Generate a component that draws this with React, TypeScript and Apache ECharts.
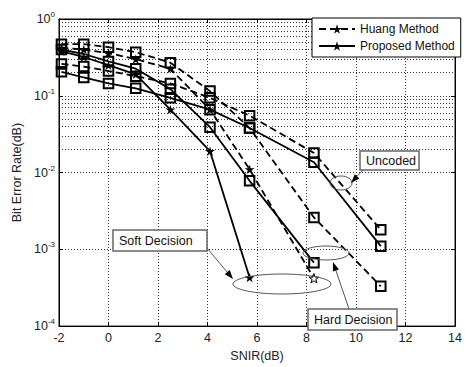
import React, { useEffect, useRef } from "react";
import * as echarts from "echarts";

const snir = [-1.9, -1.0, 0, 1.1, 2.5, 4.1, 5.7, 8.3, 11];
const huangSoft = [0.42, 0.4, 0.36, 0.3, 0.225, 0.066, 0.011, 0.00042];
const propSoft = [0.38, 0.32, 0.25, 0.19, 0.066, 0.019, 0.00043];
const huangUncoded = [0.26, 0.24, 0.21, 0.18, 0.145, 0.094, 0.055, 0.018, 0.0018];
const huangHard = [0.47, 0.47, 0.43, 0.37, 0.27, 0.115, 0.038, 0.0026, 0.00033];
const propUncoded = [0.205, 0.173, 0.145, 0.125, 0.094, 0.066, 0.038, 0.0136, 0.0011];
const propHard = [0.4, 0.35, 0.28, 0.225, 0.122, 0.039, 0.0078, 0.00067];

const legendNames = ["Huang Method", "Proposed Method"];
const xTicks = { min: -2, max: 14, interval: 2 };
const yRange = { min: 1e-4, max: 1 };

const STAR =
  "path://M50,0 L61,35 L98,35 L68,57 L79,91 L50,70 L21,91 L32,57 L2,35 L39,35 Z";
const FONT = "Liberation Sans";
const GRID_DOT = { color: "#333", width: 1, type: [1, 2] as any };

function pairs(vals: number[]) {
  return vals.map((v, i) => [snir[i], v]);
}

function arrow(x1: number, y1: number, x2: number, y2: number) {
  const ang = Math.atan2(y2 - y1, x2 - x1);
  const L = 9, W = 3.2;
  const bx = x2 - L * Math.cos(ang), by = y2 - L * Math.sin(ang);
  const px = -Math.sin(ang) * W, py = Math.cos(ang) * W;
  return [
    { type: "line", z: 100, shape: { x1, y1, x2: bx, y2: by }, style: { stroke: "#555", lineWidth: 1 } },
    {
      type: "polygon", z: 100,
      shape: { points: [[x2, y2], [bx + px, by + py], [bx - px, by - py]] },
      style: { fill: "#000" },
    },
  ];
}

function labelBox(x: number, y: number, w: number, h: number, text: string) {
  return [
    { type: "rect", z: 100, shape: { x, y, width: w, height: h }, style: { fill: "#fff", stroke: "#666", lineWidth: 1.5 } },
    {
      type: "text", z: 101, x: x + 6, y: y + h / 2,
      style: { text, fill: "#111", font: `12.5px '${FONT}'`, verticalAlign: "middle" },
    },
  ];
}

function ellipse(cx: number, cy: number, rx: number, ry: number) {
  return { type: "ellipse", z: 99, shape: { cx, cy, rx, ry }, style: { fill: "none", stroke: "#555", lineWidth: 1 } };
}

export default function App() {
  const ref = useRef<HTMLDivElement>(null);
  useEffect(() => {
    if (!ref.current) return;
    const chart = echarts.init(ref.current, null, { renderer: "svg" });

    const minorLines: any[] = [];
    for (let d = -4; d <= -1; d++) {
      for (let k = 2; k <= 9; k++) minorLines.push({ yAxis: k * Math.pow(10, d) });
    }

    const squareStyle = { color: "rgba(255,255,255,0)", borderColor: "#000", borderWidth: 2 };
    const mk = (name: string, vals: number[], dashed: boolean, star: boolean, extra: any = {}) => ({
      name,
      type: "line",
      data: pairs(vals),
      symbol: star ? STAR : "rect",
      symbolSize: star ? 10 : 9.5,
      symbolKeepAspect: true,
      lineStyle: { color: "#000", width: 1.8, type: dashed ? [7, 4] : "solid" },
      itemStyle: star ? { color: "#000" } : squareStyle,
      emphasis: { disabled: true },
      ...extra,
    });

    const hsData: any[] = pairs(huangSoft);
    hsData[hsData.length - 1] = {
      value: hsData[hsData.length - 1],
      itemStyle: { color: "#fff", borderColor: "#000", borderWidth: 1 },
    };

    const yLabel = {
      color: "#222",
      fontFamily: FONT,
      formatter: (v: number) => `{b|10}{s|${Math.round(Math.log10(v))}}`,
      rich: {
        b: { fontSize: 12.5, fontFamily: FONT, color: "#222" },
        s: { fontSize: 8, fontFamily: FONT, color: "#222", padding: [0, 0, 9, 0] },
      },
    };

    chart.setOption({
      animation: false,
      backgroundColor: "#fff",
      grid: { left: 59, right: 5, top: 19, bottom: 33, show: true, borderColor: "#000", borderWidth: 1 },
      legend: {
        data: legendNames,
        orient: "vertical",
        left: 312,
        top: 18,
        padding: [5, 6, 5, 6],
        itemGap: 5,
        itemWidth: 36,
        itemHeight: 12,
        backgroundColor: "#fff",
        borderColor: "#000",
        borderWidth: 1,
        textStyle: { fontFamily: FONT, fontSize: 12, color: "#111" },
        z: 50,
      },
      xAxis: [
        {
          type: "value",
          ...xTicks,
          name: "SNIR(dB)",
          nameLocation: "middle",
          nameGap: 18,
          nameTextStyle: { fontFamily: FONT, fontSize: 12.5, color: "#222" },
          axisLine: { show: true, onZero: false, lineStyle: { color: "#000" } },
          axisTick: { inside: true, length: 4, lineStyle: { color: "#000" } },
          axisLabel: { fontFamily: FONT, fontSize: 12.5, color: "#222", margin: 5 },
          splitLine: { show: true, lineStyle: GRID_DOT },
        },
        {
          type: "value",
          ...xTicks,
          position: "top",
          axisLine: { show: true, onZero: false, lineStyle: { color: "#000" } },
          axisTick: { inside: true, length: 4, lineStyle: { color: "#000" } },
          axisLabel: { show: false },
          splitLine: { show: false },
        },
      ],
      yAxis: [
        {
          type: "log",
          logBase: 10,
          ...yRange,
          name: "Bit Error Rate(dB)",
          nameLocation: "middle",
          nameGap: 32,
          nameRotate: 90,
          nameTextStyle: { fontFamily: FONT, fontSize: 12.5, color: "#222" },
          axisLine: { show: true, onZero: false, lineStyle: { color: "#000" } },
          axisTick: { inside: true, length: 4, lineStyle: { color: "#000" } },
          axisLabel: { ...yLabel, margin: 4 },
          splitLine: { show: true, lineStyle: GRID_DOT },
        },
        {
          type: "log",
          logBase: 10,
          ...yRange,
          position: "right",
          axisLine: { show: true, onZero: false, lineStyle: { color: "#000" } },
          axisTick: { inside: true, length: 4, lineStyle: { color: "#000" } },
          axisLabel: { show: false },
          splitLine: { show: false },
        },
      ],
      series: [
        { ...mk(legendNames[0], huangSoft, true, true), data: hsData },
        mk(legendNames[1], propSoft, false, true),
        mk(legendNames[0], huangUncoded, true, false),
        mk(legendNames[0], huangHard, true, false),
        mk(legendNames[1], propHard, false, false),
        mk(legendNames[1], propUncoded, false, false, {
          markLine: {
            silent: true,
            symbol: "none",
            label: { show: false },
            lineStyle: GRID_DOT,
            emphasis: { disabled: true },
            data: minorLines,
            z: 0,
          },
        }),
      ],
      graphic: [
        ellipse(341, 183, 11, 7),
        ellipse(282, 284, 49, 10),
        ellipse(326, 253, 23, 7),
        ...arrow(363, 170, 351, 183),
        ...arrow(207, 248, 233, 279),
        ...arrow(349, 309, 333, 262),
        ...labelBox(360, 151, 59, 19, "Uncoded"),
        ...labelBox(113, 230, 94, 21, "Soft Decision"),
        ...labelBox(308, 309, 89, 21, "Hard Decision"),
      ],
    });
    return () => chart.dispose();
  }, []);
  return (
    <div
      ref={ref}
      style={{ position: "fixed", left: 0, top: 0, width: 465, height: 367, background: "#fff" }}
    />
  );
}
